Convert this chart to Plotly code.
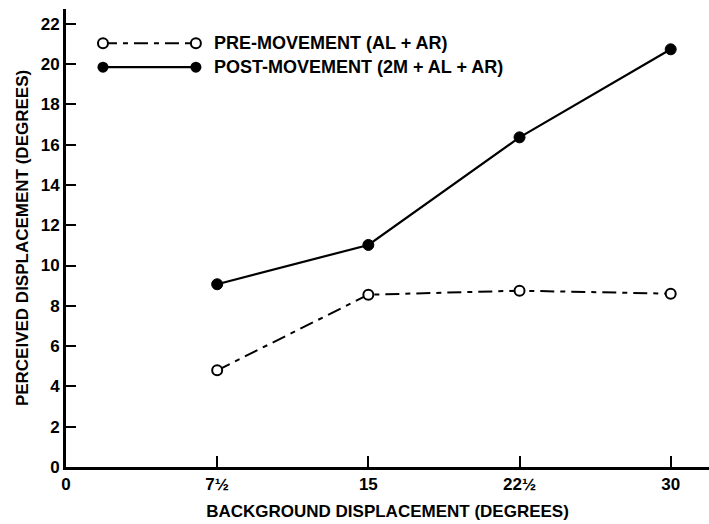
import plotly.graph_objects as go

# Data
x_vals = [7.5, 15, 22.5, 30]
pre_movement = [4.8, 8.55, 8.75, 8.6]
post_movement = [9.07, 11.02, 16.36, 20.73]
x_tickvals = [0, 7.5, 15, 22.5, 30]
x_ticktext = ["0", "7½", "15", "22½", "30"]
y_tickvals = list(range(0, 23, 2))

FONT = "Liberation Sans Narrow, Liberation Sans, Arial"

fig = go.Figure()

fig.add_trace(go.Scatter(
    x=x_vals, y=pre_movement, mode="lines+markers",
    line=dict(color="black", width=2, dash="14px,6px,5px,6px"),
    marker=dict(symbol="circle", size=10, color="white",
                line=dict(color="black", width=2)),
    showlegend=False))
fig.add_trace(go.Scatter(
    x=x_vals, y=post_movement, mode="lines+markers",
    line=dict(color="black", width=2.2),
    marker=dict(symbol="circle", size=11, color="black",
                line=dict(color="black", width=1)),
    showlegend=False))

# Legend keys on a hidden paper-like axis
leg_x = [0.0575, 0.202]
fig.add_trace(go.Scatter(
    x=leg_x, y=[0.925, 0.925], xaxis="x2", yaxis="y2", mode="lines+markers",
    line=dict(color="black", width=2, dash="14px,6px,5px,6px"),
    marker=dict(symbol="circle", size=10, color="white",
                line=dict(color="black", width=2)),
    showlegend=False, hoverinfo="skip"))
fig.add_trace(go.Scatter(
    x=leg_x, y=[0.873, 0.873], xaxis="x2", yaxis="y2", mode="lines+markers",
    line=dict(color="black", width=2.2),
    marker=dict(symbol="circle", size=11, color="black"),
    showlegend=False, hoverinfo="skip"))

fig.add_annotation(x=0.227, y=0.925, xref="paper", yref="paper",
                   text="<b>PRE-MOVEMENT (AL + AR)</b>", showarrow=False,
                   xanchor="left", yanchor="middle",
                   font=dict(family=FONT, size=18, color="black"))
fig.add_annotation(x=0.227, y=0.873, xref="paper", yref="paper",
                   text="<b>POST-MOVEMENT (2M + AL + AR)</b>", showarrow=False,
                   xanchor="left", yanchor="middle",
                   font=dict(family=FONT, size=18, color="black"))

fig.update_layout(
    width=709, height=524,
    margin=dict(l=66, r=0, t=9, b=57),
    plot_bgcolor="white", paper_bgcolor="white",
    font=dict(family=FONT, size=17, color="black"),
    xaxis=dict(range=[0, 31.9], tickvals=x_tickvals, ticktext=x_ticktext,
               ticks="inside", ticklen=11, tickwidth=1.5, tickcolor="black",
               showline=True, linecolor="black", linewidth=3,
               showgrid=False, zeroline=False, automargin=False,
               tickfont=dict(family=FONT, size=17, color="black", weight="bold"),
               title=dict(text="<b>BACKGROUND DISPLACEMENT (DEGREES)</b>",
                          font=dict(family=FONT, size=17), standoff=12)),
    yaxis=dict(range=[0, 22.73], tickvals=y_tickvals,
               ticks="inside", ticklen=10, tickwidth=1.5, tickcolor="black",
               showline=True, linecolor="black", linewidth=3,
               showgrid=False, zeroline=False, automargin=False,
               tickfont=dict(family=FONT, size=17, color="black", weight="bold"),
               title=dict(text="<b>PERCEIVED DISPLACEMENT (DEGREES)</b>",
                          font=dict(family=FONT, size=17), standoff=8)),
    xaxis2=dict(range=[0, 1], overlaying="x", visible=False, fixedrange=True),
    yaxis2=dict(range=[0, 1], overlaying="y", visible=False, fixedrange=True),
)

fig.write_html("out.html", config={"displayModeBar": False},
               post_script="document.body.style.margin='0';document.body.style.overflow='hidden';")
